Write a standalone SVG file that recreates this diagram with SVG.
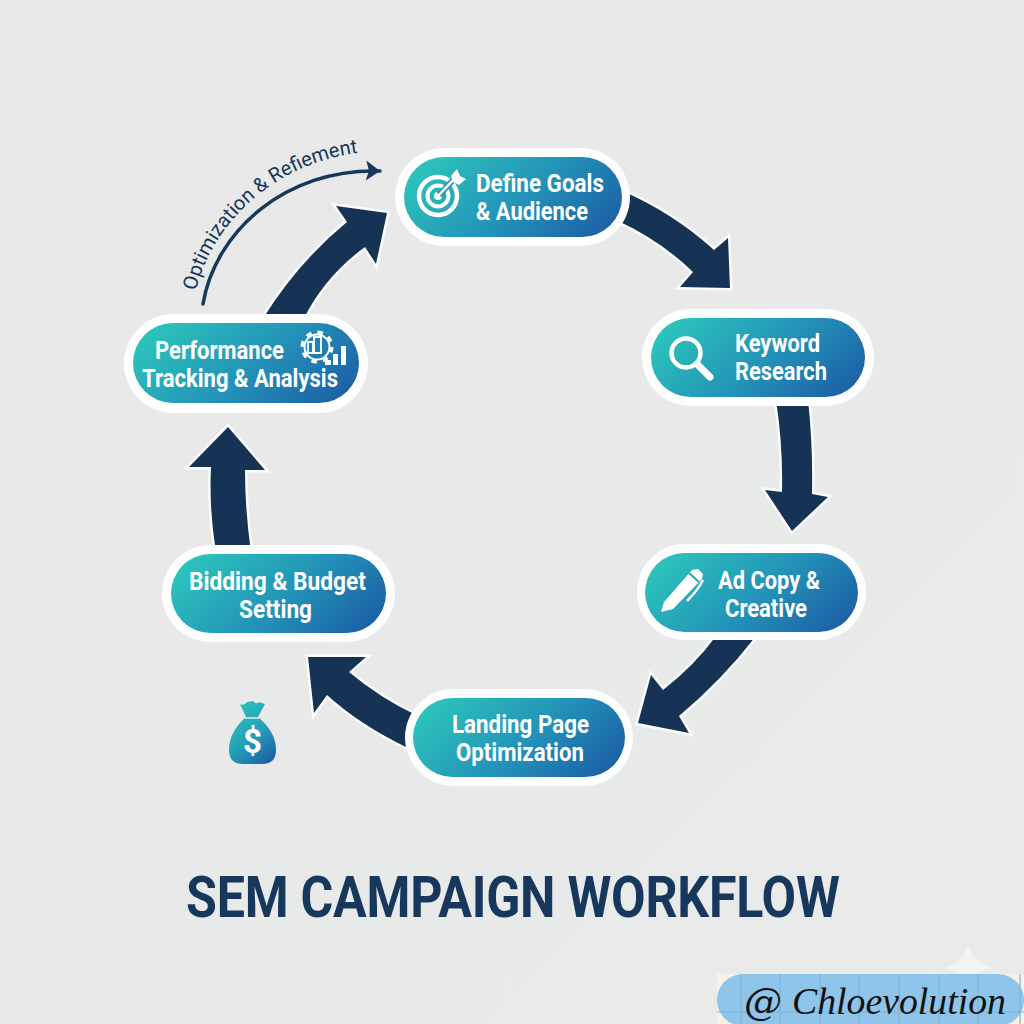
<svg xmlns="http://www.w3.org/2000/svg" width="1024" height="1024" viewBox="0 0 1024 1024">
<defs>
<linearGradient id="pill" x1="0" y1="0.3" x2="1" y2="0.7"><stop offset="0" stop-color="#2cc3bb"/><stop offset="0.55" stop-color="#2392b8"/><stop offset="1" stop-color="#1c62a6"/></linearGradient>
<linearGradient id="bag" x1="0.2" y1="0" x2="0.8" y2="1"><stop offset="0" stop-color="#2cc3bb"/><stop offset="0.55" stop-color="#25a0b8"/><stop offset="1" stop-color="#1c62a6"/></linearGradient>
<linearGradient id="bg" x1="0" y1="0" x2="1" y2="1"><stop offset="0" stop-color="#e8e8e8"/><stop offset="1" stop-color="#e9eaea"/></linearGradient>
<marker id="chev" viewBox="0 0 20 24" refX="17" refY="12" markerWidth="20" markerHeight="24" markerUnits="userSpaceOnUse" orient="auto"><path d="M3,2 L17,12 L3,22 L6,12 Z" fill="#17375c"/></marker>
</defs>
<style>
.halo{fill:#fdfefd}
.body{fill:url(#pill)}
.t{font-family:Roboto,"Liberation Sans",sans-serif;font-weight:700;font-size:26.500px;fill:#fff}
.arrow{fill:#163356;stroke:#fbfcfc;stroke-width:5;paint-order:stroke;stroke-linejoin:miter}
.ic{fill:none;stroke:#fff}
.w{fill:#fff}
</style>
<rect width="1024" height="1024" fill="url(#bg)"/>

<g id="connectors">
<path class="arrow" d="M262,320 Q298,262 347,222 L336,206 L387,213 L376,264 L365,247 Q325,276 303,320 Z"/>
<path class="arrow" d="M620,190 Q672,212 714,250 L728,238 L730,288 L680,287 L693,272 Q660,240 616,220 Z"/>
<path class="arrow" d="M776,400 Q783,445 782,492 L765,490 L792,531 L828,497 L812,494 Q813,445 808,400 Z"/>
<path class="arrow" d="M716,636 Q695,665 663,690 L651,675 L638,723 L689,733 L679,716 Q722,680 756,636 Z"/>
<path class="arrow" d="M416,715 Q380,698 349,672 L366,657 L308,657 L314,713 L327,695 Q360,725 408,748 Z"/>
<path class="arrow" d="M216,552 Q209,510 211,467 L189,467 L228,427 L265,470 L245,470 Q245,510 251,552 Z"/>
<path id="loop" d="M203,304 C215,232 285,168 380,171" fill="none" stroke="#17375c" stroke-width="3.500" stroke-linecap="round" marker-end="url(#chev)"/>
<path id="loopText" d="M196,291 C209,231 268,164 358,153" fill="none"/>
<text font-family="Roboto,'Liberation Sans',sans-serif" font-size="20" fill="#17375c"><textPath href="#loopText">Optimization &amp; Refiement</textPath></text>
</g>

<g id="node-define">
<rect class="halo" x="395" y="148" width="235" height="98" rx="49"/>
<rect class="body" x="404" y="157" width="218" height="80" rx="40"/>
<circle class="ic" cx="438" cy="196" r="19" stroke-width="4.500"/>
<circle class="ic" cx="438" cy="196" r="10.500" stroke-width="4"/>
<circle class="w" cx="438" cy="196" r="4"/>
<path d="M439,195 L456,177" stroke="#2a9ab8" stroke-width="6"/>
<path d="M438,196 L456,177" stroke="#fff" stroke-width="2.500"/>
<path class="w" d="M451,176 L457,169 L460,176 L466,179 L459,185 L453,182 Z"/>
<text class="t" x="476" y="192" textLength="128" lengthAdjust="spacingAndGlyphs">Define Goals</text>
<text class="t" x="476" y="220" textLength="112" lengthAdjust="spacingAndGlyphs">&amp; Audience</text>
</g>

<g id="node-keyword">
<rect class="halo" x="642" y="309" width="232" height="97" rx="48.500"/>
<rect class="body" x="651" y="318" width="214" height="79" rx="39.500"/>
<circle class="ic" cx="686" cy="353" r="14.500" stroke-width="4.500"/>
<path d="M697,364 L710,377" stroke="#fff" stroke-width="7" stroke-linecap="round"/>
<text class="t" x="735" y="352" textLength="85" lengthAdjust="spacingAndGlyphs">Keyword</text>
<text class="t" x="735" y="380" textLength="92" lengthAdjust="spacingAndGlyphs">Research</text>
</g>

<g id="node-adcopy">
<rect class="halo" x="637" y="544" width="229" height="96" rx="48"/>
<rect class="body" x="645" y="553" width="213" height="79" rx="39.500"/>
<path class="w" d="M661,612 L664,602 L692,570 L698,569 L703,574 L702,579 L673,609 Z"/>
<path d="M689,573 L699,582" stroke="#2aa5b9" stroke-width="2"/>
<path class="ic" d="M703,580 Q698,590 687,601" stroke-width="2.500"/>
<text class="t" x="718" y="589" textLength="102" lengthAdjust="spacingAndGlyphs">Ad Copy &amp;</text>
<text class="t" x="725" y="617" textLength="82" lengthAdjust="spacingAndGlyphs">Creative</text>
</g>

<g id="node-landing">
<rect class="halo" x="405" y="689" width="228" height="97" rx="48.500"/>
<rect class="body" x="413" y="698" width="212" height="79" rx="39.500"/>
<text class="t" x="452" y="733" textLength="137" lengthAdjust="spacingAndGlyphs">Landing Page</text>
<text class="t" x="456" y="761" textLength="128" lengthAdjust="spacingAndGlyphs">Optimization</text>
</g>

<g id="node-bidding">
<rect class="halo" x="162" y="545" width="233" height="97" rx="48.500"/>
<rect class="body" x="171" y="554" width="215" height="79" rx="39.500"/>
<text class="t" x="189" y="590" textLength="177" lengthAdjust="spacingAndGlyphs">Bidding &amp; Budget</text>
<text class="t" x="239" y="618" textLength="73" lengthAdjust="spacingAndGlyphs">Setting</text>
</g>

<g id="node-performance">
<rect class="halo" x="124" y="314" width="244" height="99" rx="49.500"/>
<rect class="body" x="133" y="323" width="226" height="80" rx="40"/>
<circle class="ic" cx="317" cy="347" r="12.500" stroke-width="2"/>
<circle class="ic" cx="317" cy="347" r="14.500" stroke-width="4" stroke-dasharray="5.400 6"/>
<path class="ic" d="M308,342 h5 v11 h-5 Z M314,337 h7 v16 h-7 Z" stroke-width="1.800"/>
<path class="w" d="M325,360 h6 v5 h-6 Z M333,354 h5 v11 h-5 Z M341,346 h5 v19 h-5 Z"/>
<text class="t" x="155" y="359" textLength="129" lengthAdjust="spacingAndGlyphs">Performance</text>
<text class="t" x="142" y="387" textLength="196" lengthAdjust="spacingAndGlyphs">Tracking &amp; Analysis</text>
</g>

<g id="money-bag">
<path d="M240,704 Q244,706 247,702 L253,701 Q256,705 259,702 L265,704 L258,717 Q276,732 276,750 Q276,764 262,764 L243,764 Q229,764 229,750 Q229,732 246,717 Z" fill="url(#bag)"/>
<path d="M245,718 H259" stroke="#e8e8e8" stroke-width="1.500"/>
<text x="252.500" y="753" text-anchor="middle" font-family="Roboto,'Liberation Sans',sans-serif" font-weight="700" font-size="33" fill="#fff">$</text>
</g>

<text id="title" transform="translate(186,917) scale(0.88,1)" x="0" y="0" textLength="743" lengthAdjust="spacing" font-family="Roboto,'Liberation Sans',sans-serif" font-weight="700" font-size="57" fill="#17375c">SEM CAMPAIGN WORKFLOW</text>

<g id="watermark">
<path d="M968,944 Q972,962 993,968 Q972,972 968,985 Q964,972 944,968 Q964,962 968,944 Z" fill="#f2f3f3"/>
<rect x="717" y="974" width="307" height="50" fill="#f6f3e6"/>
<rect x="717" y="974" width="307" height="52" rx="26" fill="#8fc5ea"/>
<path d="M741,974 V1024 M780,974 V1024 M820,974 V1024 M859,974 V1024 M899,974 V1024 M939,974 V1024 M978,974 V1024 M1020,974 V1024 M717,1012 H1024" stroke="#7fb3da" stroke-width="1.200" fill="none"/>
<text x="744" y="1014" font-family="'DejaVu Serif',serif" font-style="italic" font-size="38" fill="#111">@</text>
<text x="792" y="1014" textLength="214" lengthAdjust="spacingAndGlyphs" font-family="'Liberation Serif',serif" font-style="italic" font-size="38" fill="#111">Chloevolution</text>
</g>
</svg>
